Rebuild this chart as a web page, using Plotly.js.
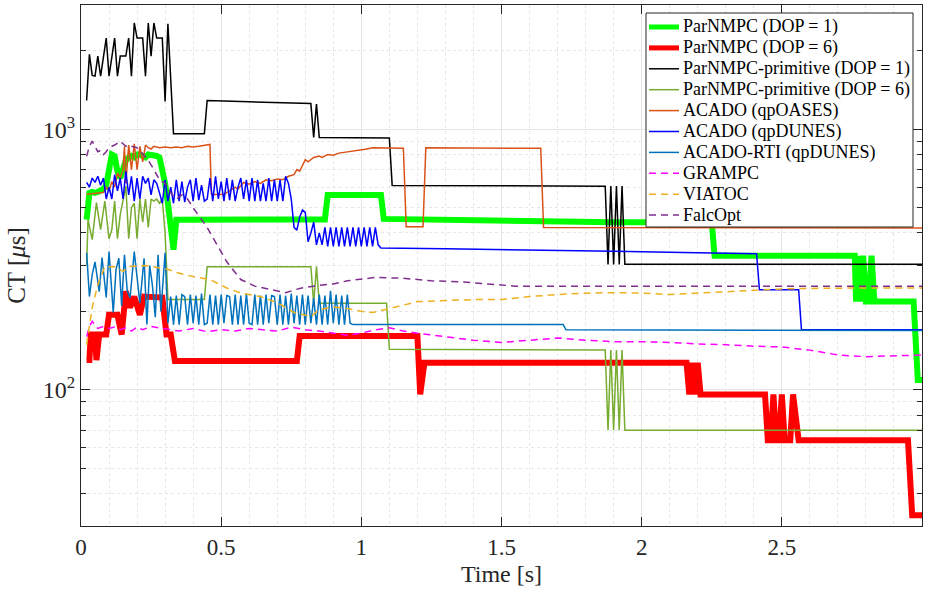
<!DOCTYPE html>
<html>
<head>
<meta charset="utf-8">
<script src="https://cdn.plot.ly/plotly-3.0.1.min.js"></script>
<style>html,body{margin:0;padding:0;background:#fff;}#chart{width:925px;height:593px;}</style>
</head>
<body>
<div id="chart"></div>
<script>
// ---------- Data (Time [s], CT [µs]) ----------
const seriesNames = ["ParNMPC (DOP = 1)", "ParNMPC (DOP = 6)", "ParNMPC-primitive (DOP = 1)",
  "ParNMPC-primitive (DOP = 6)", "ACADO (qpOASES)", "ACADO (qpDUNES)", "ACADO-RTI (qpDUNES)",
  "GRAMPC", "VIATOC", "FalcOpt"];

const tParDop1 = [0.02,0.03,0.04,0.05,0.06,0.07,0.08,0.09,0.10,0.11,0.12,0.13,0.14,0.15,0.16,0.17,0.18,0.19,0.20,0.21,0.22,0.23,0.24,0.25,0.26,0.27,0.28,0.29,0.30,0.31,0.32,0.33,0.34,0.87,0.88,1.07,1.08,1.5,1.9,2.25,2.26,2.76,2.765,2.77,2.78,2.79,2.80,2.81,2.82,2.83,2.97,2.985,3.0];
const yParDop1 = [450,570,575,570,575,580,590,610,700,800,790,690,650,700,760,780,790,780,800,800,790,780,800,800,800,790,780,700,620,520,400,345,450,451,559,559,453,445,440,440,327,327,218,327,218,327,218,218,327,218,218,109,109];

const tParDop6 = [0.02,0.03,0.035,0.05,0.055,0.065,0.09,0.10,0.13,0.145,0.16,0.175,0.19,0.21,0.225,0.275,0.29,0.305,0.32,0.335,0.77,0.78,1.20,1.21,1.225,2.16,2.17,2.18,2.19,2.20,2.21,2.22,2.44,2.45,2.46,2.47,2.48,2.49,2.50,2.51,2.53,2.54,2.56,2.95,2.965,3.0];
const yParDop6 = [130,130,163,163,130,163,163,194,194,163,239,207,228,194,228,228,226,163,163,129,129,161,161,96,127,127,96,127,96,127,96,96,96,64,64,96,64,64,96,64,64,96,64,64,33,33];

const tPrimDop1 = [0.02,0.03,0.04,0.05,0.06,0.07,0.09,0.10,0.12,0.13,0.14,0.16,0.17,0.18,0.19,0.20,0.22,0.23,0.24,0.25,0.26,0.27,0.29,0.30,0.31,0.33,0.44,0.45,0.60,0.70,0.82,0.83,0.84,0.85,1.10,1.11,1.87,1.88,1.89,1.90,1.91,1.92,1.93,1.94,3.0];
const yPrimDop1 = [1290,1940,1610,1600,1910,1600,2240,1600,2240,1600,1910,1910,2240,1600,2560,2240,2240,1600,2560,1910,2560,2240,2240,1280,2540,962,962,1290,1275,1265,1255,930,1250,930,925,609,605,303,605,303,605,303,605,303,303];

const tPrimDop6 = [0.02,0.025,0.04,0.055,0.07,0.085,0.10,0.11,0.12,0.13,0.14,0.16,0.17,0.18,0.19,0.20,0.21,0.22,0.23,0.24,0.25,0.26,0.27,0.28,0.29,0.30,0.31,0.44,0.45,0.82,0.83,0.84,0.85,1.09,1.10,1.87,1.88,1.89,1.90,1.91,1.92,1.93,1.94,3.0];
const yPrimDop6 = [300,450,377,523,412,530,380,412,530,380,470,605,380,500,520,380,540,440,540,420,540,530,540,520,540,400,222,222,297,297,215,297,215,215,143,142,70,142,70,142,70,142,70,70];

const tQpOASES = [0.02,0.04,0.06,0.08,0.09,0.10,0.11,0.12,0.13,0.14,0.15,0.155,0.16,0.17,0.18,0.19,0.20,0.21,0.22,0.23,0.24,0.25,0.26,0.28,0.30,0.32,0.34,0.36,0.38,0.40,0.42,0.44,0.46,0.465,0.47,0.51,0.53,0.55,0.56,0.58,0.60,0.62,0.64,0.66,0.68,0.70,0.72,0.74,0.76,0.77,0.78,0.80,0.81,0.83,0.85,0.86,0.88,0.90,0.92,0.94,0.96,0.98,1.00,1.02,1.04,1.06,1.10,1.15,1.16,1.22,1.23,1.64,1.65,3.0];
const yQpOASES = [563,565,570,572,600,580,630,600,680,650,700,860,620,870,700,880,700,860,750,870,850,840,860,850,855,850,855,850,860,855,860,870,875,565,562,563,580,600,590,625,615,630,620,640,635,645,640,660,670,700,690,765,750,780,790,780,800,795,810,815,820,830,835,840,850,850,845,845,423,423,850,845,420,418];

const tQpDUNES = [0.02,0.03,0.04,0.05,0.06,0.07,0.08,0.09,0.10,0.11,0.12,0.13,0.14,0.15,0.16,0.17,0.18,0.19,0.20,0.21,0.22,0.23,0.24,0.25,0.26,0.27,0.28,0.29,0.30,0.31,0.32,0.33,0.34,0.35,0.36,0.37,0.38,0.39,0.40,0.41,0.42,0.43,0.44,0.45,0.46,0.47,0.48,0.49,0.50,0.51,0.52,0.53,0.54,0.55,0.56,0.57,0.58,0.59,0.60,0.61,0.62,0.63,0.64,0.65,0.66,0.67,0.68,0.69,0.70,0.71,0.72,0.73,0.74,0.75,0.76,0.77,0.78,0.79,0.80,0.81,0.82,0.83,0.84,0.85,0.86,0.87,0.88,0.89,0.90,0.91,0.92,0.93,0.94,0.95,0.96,0.97,0.98,0.99,1.00,1.01,1.02,1.03,1.04,1.05,1.06,1.07,1.30,1.60,1.90,2.20,2.41,2.42,2.56,2.57,3.0];
const yQpDUNES = [625,600,650,625,660,610,650,540,600,540,670,580,650,540,690,560,660,530,650,540,660,620,650,560,640,620,570,520,640,530,600,520,640,530,630,525,600,640,530,650,535,610,530,540,650,530,660,540,630,530,650,535,640,530,600,650,540,640,530,650,530,640,530,620,530,650,530,640,530,640,530,660,620,540,420,410,460,490,480,370,400,440,360,400,360,420,355,420,355,420,355,420,355,420,355,420,355,420,355,420,355,420,355,420,360,350,348,345,340,336,333,242,242,170,170];

const tRtiDUNES = [0.02,0.03,0.04,0.05,0.065,0.075,0.09,0.10,0.115,0.125,0.135,0.145,0.155,0.165,0.175,0.19,0.20,0.21,0.225,0.235,0.245,0.255,0.265,0.275,0.285,0.295,0.30,0.31,0.32,0.33,0.34,0.35,0.36,0.37,0.38,0.39,0.40,0.41,0.42,0.43,0.44,0.45,0.46,0.47,0.48,0.49,0.50,0.51,0.52,0.53,0.54,0.55,0.56,0.57,0.58,0.59,0.60,0.61,0.62,0.63,0.64,0.65,0.66,0.67,0.68,0.69,0.70,0.71,0.72,0.73,0.74,0.75,0.76,0.77,0.78,0.79,0.80,0.81,0.82,0.83,0.84,0.85,0.86,0.87,0.88,0.89,0.90,0.91,0.92,0.93,0.94,0.95,0.96,0.97,1.72,1.73,3.0];
const yRtiDUNES = [336,228,277,310,238,322,226,339,198,290,320,210,330,240,225,339,270,215,320,178,300,250,190,330,200,300,336,180,228,178,230,178,232,228,178,232,180,230,178,234,178,180,232,178,230,178,232,180,230,228,178,232,178,230,178,234,180,178,232,178,230,178,232,180,230,228,178,232,178,230,178,234,180,230,178,232,178,230,180,225,178,232,178,230,178,240,180,232,178,230,178,232,180,178,178,170,169];

const tGRAMPC = [0.02,0.03,0.04,0.05,0.06,0.08,0.10,0.12,0.14,0.16,0.18,0.20,0.22,0.25,0.30,0.35,0.40,0.45,0.50,0.55,0.60,0.65,0.70,0.75,0.80,0.85,0.90,0.95,1.00,1.05,1.10,1.15,1.20,1.30,1.40,1.50,1.60,1.70,1.80,1.90,2.00,2.10,2.20,2.30,2.40,2.50,2.60,2.70,2.80,2.90,3.00];
const yGRAMPC = [160,175,183,178,172,175,172,174,170,173,168,174,170,175,172,168,172,167,170,168,172,170,168,174,170,168,165,162,165,170,173,168,165,160,155,152,155,158,155,153,153,152,150,149,147,146,142,136,134,135,136];

const tVIATOC = [0.02,0.04,0.06,0.085,0.12,0.15,0.17,0.23,0.27,0.31,0.34,0.40,0.46,0.52,0.57,0.64,0.70,0.76,0.82,0.85,0.90,0.95,1.00,1.04,1.10,1.15,1.20,1.30,1.40,1.50,1.60,1.70,1.80,1.90,2.00,2.10,2.20,2.30,2.40,2.50,2.60,2.70,2.80,2.90,3.00];
const yVIATOC = [149,207,253,297,297,285,297,300,295,290,282,272,265,246,235,228,216,198,191,203,208,205,200,198,205,212,218,220,222,222,228,232,235,236,235,232,235,238,242,244,245,246,246,246,246];

const tFalcOpt = [0.02,0.03,0.04,0.05,0.06,0.07,0.08,0.09,0.10,0.12,0.14,0.15,0.16,0.17,0.18,0.20,0.22,0.24,0.26,0.28,0.30,0.32,0.34,0.36,0.38,0.40,0.45,0.48,0.52,0.57,0.62,0.68,0.73,0.78,0.85,0.90,0.95,1.05,1.15,1.25,1.35,1.45,1.55,1.70,2.00,2.50,3.00];
const yFalcOpt = [787,860,900,860,820,830,800,820,850,870,900,880,860,870,860,850,800,760,700,640,620,570,540,560,540,500,420,370,310,265,250,242,236,245,252,255,262,270,268,262,260,255,250,250,250,250,250];

// ---------- Styles ----------
const colors = ["#00ff00","#ff0000","#000000","#77ac30","#d95319","#0000ff","#0072bd","#ff00ff","#edb120","#7e2f8e"];
const widths = [6,6,1.5,1.5,1.5,1.5,1.5,1.5,1.5,1.5];
const dashes = ["solid","solid","solid","solid","solid","solid","solid","7px,5px","7px,5px","7px,5px"];

const xs = [tParDop1,tParDop6,tPrimDop1,tPrimDop6,tQpOASES,tQpDUNES,tRtiDUNES,tGRAMPC,tVIATOC,tFalcOpt];
const ys = [yParDop1,yParDop6,yPrimDop1,yPrimDop6,yQpOASES,yQpDUNES,yRtiDUNES,yGRAMPC,yVIATOC,yFalcOpt];

const traces = seriesNames.map((n,i)=>({
  type:'scatter', mode:'lines', name:n, x:xs[i], y:ys[i],
  line:{color:colors[i], width:widths[i], dash:dashes[i]}
}));

// ---------- Layout ----------
const W = 925, H = 593, ML = 81, MR = 3, MT = 5, MB = 67;
const PW = W - ML - MR, PH = H - MT - MB;
const px = v => (v - ML) / PW;      // pixel -> paper x
const py = v => (H - MB - v) / PH;  // pixel -> paper y

const serif = '"Liberation Serif", "Times New Roman", Times, serif';
const axisColor = '#262626';

// manual legend box (MATLAB style)
const legBox = {x0:646, x1:913, y0:13, y1:227};
const rowTop = 27, rowGap = 20.9, sampleX0 = 649, sampleX1 = 679, textX = 681;

const shapes = [{
  type:'rect', xref:'paper', yref:'paper', layer:'above',
  x0:px(legBox.x0), x1:px(legBox.x1), y0:py(legBox.y1), y1:py(legBox.y0),
  fillcolor:'#ffffff', line:{color:axisColor, width:1}
}];
const annotations = [];
seriesNames.forEach((n,i)=>{
  const yy = rowTop + i*rowGap;
  shapes.push({type:'line', xref:'paper', yref:'paper', layer:'above',
    x0:px(sampleX0), x1:px(sampleX1), y0:py(yy), y1:py(yy),
    line:{color:colors[i], width:Math.min(widths[i],5), dash:dashes[i]}});
  annotations.push({xref:'paper', yref:'paper', x:px(textX), y:py(yy), xanchor:'left', yanchor:'middle',
    text:n, showarrow:false, font:{family:serif, size:18, color:'#000000'}});
});

const layout = {
  width:W, height:H,
  margin:{l:ML, r:MR, t:MT, b:MB},
  paper_bgcolor:'#ffffff', plot_bgcolor:'#ffffff',
  font:{family:serif, color:axisColor},
  showlegend:false,
  xaxis:{
    range:[0,3], tick0:0, dtick:0.5, ticks:'inside', ticklen:9, tickcolor:axisColor,
    showline:true, linecolor:axisColor, linewidth:1, mirror:'ticks',
    showgrid:true, gridcolor:'#e4e4e4', gridwidth:1, zeroline:false,
    tickfont:{family:serif, size:23, color:axisColor},
    title:{text:'Time [s]', font:{family:serif, size:24, color:axisColor}, standoff:6},
    minor:{dtick:0.1, tick0:0, showgrid:true, gridcolor:'#e6e6e6', griddash:'dot', ticks:''}
  },
  yaxis:{
    type:'log', range:[Math.log10(30), Math.log10(3000)],
    tickmode:'array', tickvals:[100,1000], ticktext:['10<sup>2</sup>','10<sup>3</sup>'],
    ticks:'inside', ticklen:9, tickcolor:axisColor,
    showline:true, linecolor:axisColor, linewidth:1, mirror:'ticks',
    showgrid:true, gridcolor:'#e4e4e4', gridwidth:1, zeroline:false,
    tickfont:{family:serif, size:24, color:axisColor},
    title:{text:'CT [<i>μ</i>s]', font:{family:serif, size:25, color:axisColor}, standoff:10},
    minor:{tickmode:'array', tickvals:[40,50,60,70,80,90,200,300,400,500,600,700,800,900,2000,3000],
      ticks:'inside', ticklen:5, tickcolor:axisColor, showgrid:true, gridcolor:'#e6e6e6', griddash:'dot'}
  },
  shapes:shapes,
  annotations:annotations
};

Plotly.newPlot('chart', traces, layout, {displayModeBar:false, staticPlot:true});
</script>
</body>
</html>
